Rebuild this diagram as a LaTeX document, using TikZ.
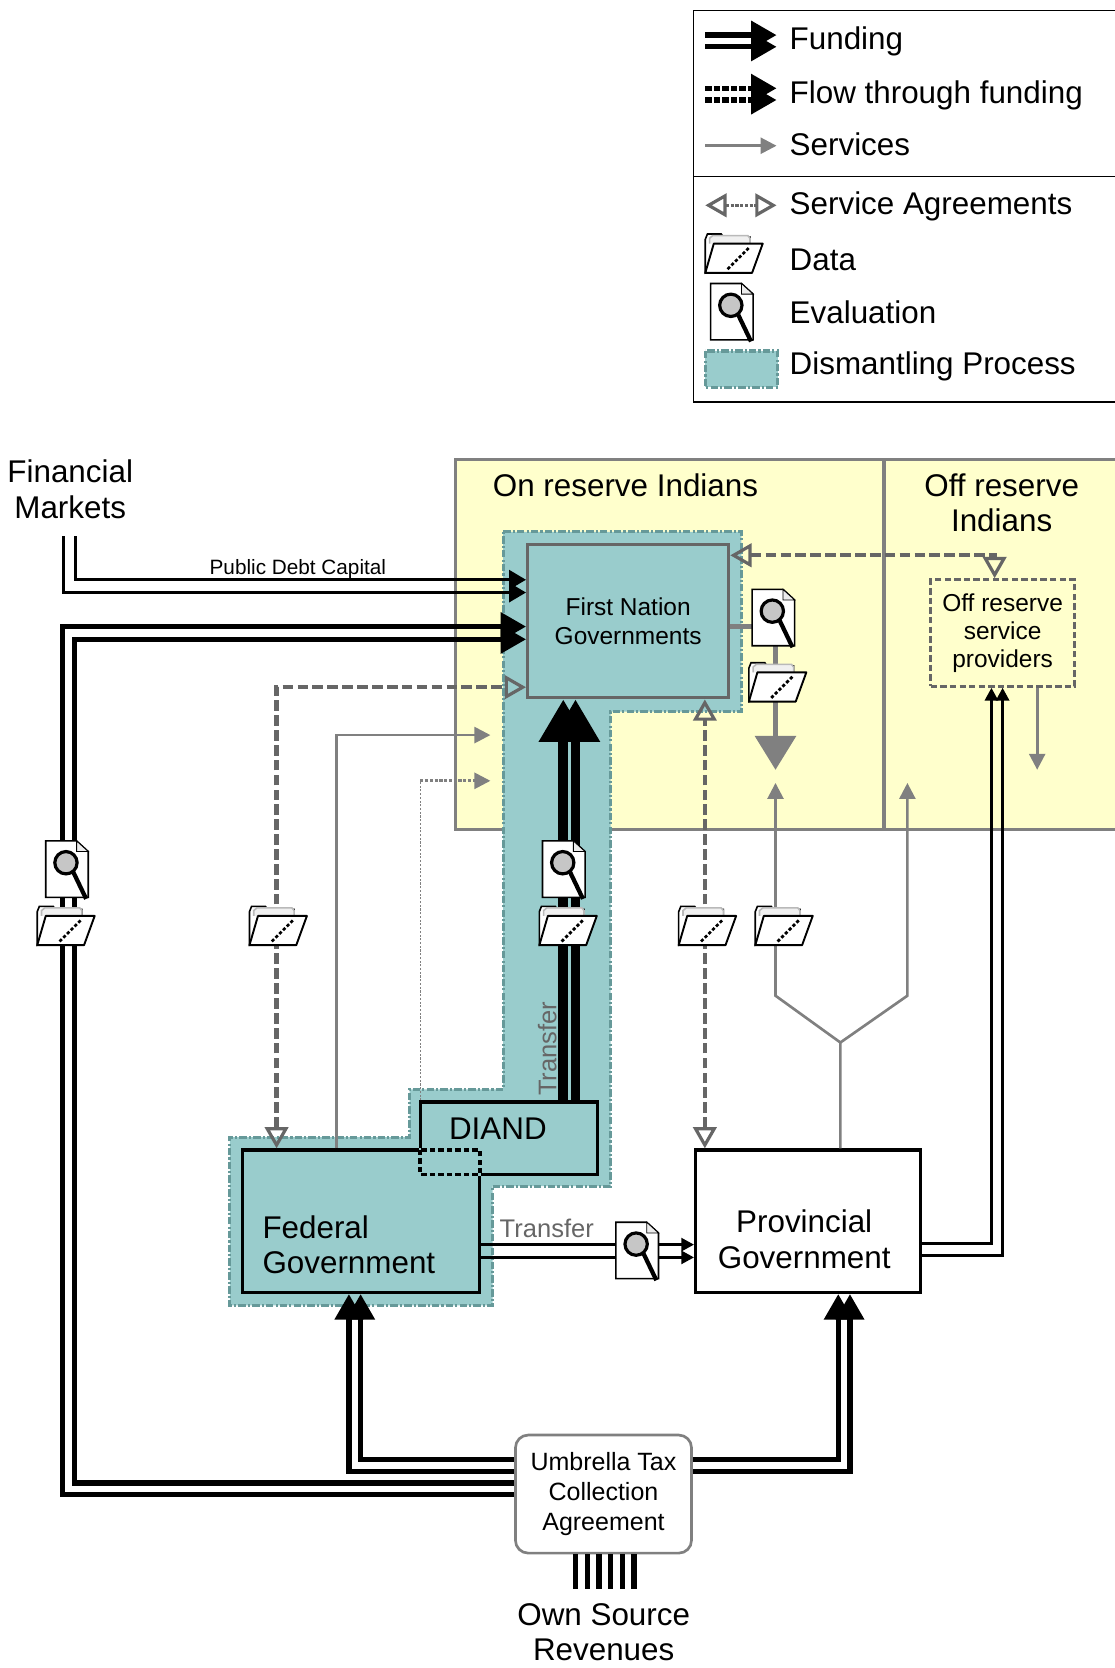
\documentclass[tikz,border=0pt]{standalone}
\usepackage{fontspec}
\setmainfont{Liberation Sans}
\usetikzlibrary{arrows.meta}
\definecolor{dismfill}{RGB}{153,204,204}
\definecolor{dismline}{RGB}{102,153,153}
\definecolor{resfill}{RGB}{255,255,204}
\definecolor{agreegray}{RGB}{102,102,102}
\definecolor{svcgray}{RGB}{128,128,128}

\tikzset{every picture/.style={line width=0.75pt}}
\tikzset{
  bigtxt/.style={font=\fontsize{29.5}{33}\selectfont, inner sep=0pt},
  midtxt/.style={font=\fontsize{23}{26.5}\selectfont},
  smalltxt/.style={font=\fontsize{19.5}{22}\selectfont, inner sep=0pt},
  fund/.style={line width=5pt, -{Triangle[length=24pt,width=26pt]}},
  debt/.style={line width=3pt, -{Triangle[length=16pt,width=18pt]}},
  thinfund/.style={line width=3pt, -{Triangle[length=12pt,width=12pt]}},
  xfer/.style={line width=9pt, -{Triangle[length=40pt,width=44pt]}},
  agree/.style={draw=agreegray, line width=4pt, dash pattern=on 10pt off 4pt,
    {Triangle[open,length=20pt,width=22pt,line width=3pt]}-{Triangle[open,length=20pt,width=22pt,line width=3pt]}},
  svc/.style={draw=svcgray, line width=2.5pt, -{Triangle[length=15pt,width=15pt]}},
  svcbig/.style={draw=svcgray, line width=5pt, -{Triangle[length=32pt,width=38pt]}},
  dismantle/.style={fill=dismfill, draw=dismline, line width=3pt, dash pattern=on 7pt off 2pt on 2pt off 2pt},
  reserve/.style={fill=resfill, draw=svcgray, line width=3pt},
  govbox/.style={draw, line width=3pt, inner sep=0pt},
  pics/evalicon/.style={code={
    \begin{scope}[yscale=-1]
    \draw[fill=white, line width=1.5pt] (-20,-26.5) -- (9,-26.5) -- (20,-16.5) -- (20,26.5) -- (-20,26.5) -- cycle;
    \draw[fill=gray!15, line width=0.8pt] (9,-26.5) -- (9,-16.5) -- (20,-16.5) -- cycle;
    \draw[line width=4pt] (6,3) -- (18,28);
    \draw[fill=gray!45, line width=3pt] (-1,-6) circle[radius=10.5pt];
    \end{scope}
  }},
  pics/dataicon/.style={code={
    \begin{scope}[yscale=-1]
    \draw[fill=white, line width=1.5pt] (-27,18.5) -- (-27,-13) -- (-25,-18) -- (-12,-18) -- (-10,-15) -- (15,-15) -- (15,0) -- cycle;
    \draw[draw=gray!55, fill=gray!12, line width=1.5pt] (-23,-9) -- (-23,-14) -- (-20,-16.5) -- (13,-16.5) -- (15,-14) -- (15,-9);
    \draw[fill=white, line width=1.8pt, line join=round] (-27,18.5) -- (-19,-9) -- (27,-9) -- (17,18.5) -- cycle;
    \draw[line width=2.6pt, dash pattern=on 3pt off 2pt] (-6,15) -- (14,-5);
    \end{scope}
  }}
}

\begin{document}
\begin{tikzpicture}[x=1pt,y=1pt,yscale=-1,xscale=1]
\useasboundingbox (0,0) rectangle (1048,1568);

% Legend
\draw[line width=1.5pt] (652,10) rectangle (1060,378);
\draw[line width=1.5pt] (652,166) -- (1060,166);
\draw[fund] (663,33) -- (730,33);
\draw[fund] (663,44) -- (730,44);
\draw[fund, dash pattern=on 6pt off 2pt] (663,83) -- (730,83);
\draw[fund, dash pattern=on 6pt off 2pt] (663,94) -- (730,94);
\draw[svc] (663,137) -- (730,137);
\draw[agree, line width=3pt, dash pattern=on 3pt off 1.5pt] (663,193) -- (730,193);
\pic at (690,238) {dataicon};
\pic at (688,293) {evalicon};
\draw[dismantle] (663,330) rectangle (731,364);
\node[bigtxt, anchor=base west] (lgfund) at (742,47) {Funding};
\node[bigtxt, anchor=base west] (lgflow) at (742,97) {Flow through funding};
\node[bigtxt, anchor=base west] (lgsvc) at (742,146) {Services};
\node[bigtxt, anchor=base west] (lgagree) at (742,202) {Service Agreements};
\node[bigtxt, anchor=base west] (lgdata) at (742,254) {Data};
\node[bigtxt, anchor=base west] (lgeval) at (742,304) {Evaluation};
\node[bigtxt, anchor=base west] (lgdism) at (742,352.5) {Dismantling Process};

% Reserve areas
\draw[reserve] (428,432) rectangle (1060,780);
\draw[draw=svcgray, line width=3pt] (831,432) -- (831,780);
\node[bigtxt, anchor=base] (onres) at (588,467) {On reserve Indians};
\node[bigtxt, align=center, anchor=base] (offres) at (941.6,500) {Off reserve\\Indians};

% Dismantling process
\draw[dismantle] (473,500) -- (697,500) -- (697,669) -- (574,669) -- (574,1115) -- (463,1115) -- (463,1227) -- (216,1227) -- (216,1069) -- (385,1069) -- (385,1024) -- (473,1024) -- cycle;

% Boxes
\node[govbox, draw=agreegray, fill=dismfill, minimum width=189pt, minimum height=144pt, midtxt, align=center] (fng) at (590.5,584) {First Nation\\Governments};
\node[govbox, draw=agreegray, dash pattern=on 6pt off 3pt, minimum width=135pt, minimum height=100pt, midtxt, align=center] (orsp) at (942.5,595) {Off reserve\\service\\providers};
\node[govbox, fill=dismfill, minimum width=167pt, minimum height=68pt] (diand) at (478.5,1070) {};
\node[govbox, fill=dismfill, minimum width=223.4pt, minimum height=134pt] (fed) at (339.3,1148) {};
\fill[dismfill] (393.5,1079.5) rectangle (452.5,1105.5);
\draw[line width=3.5pt, dash pattern=on 5pt off 3pt] (395,1081) rectangle (451,1104);
\node[govbox, fill=white, minimum width=211pt, minimum height=134pt] (prov) at (759.5,1148) {};
\node[govbox, draw=svcgray, line width=2.5pt, rounded corners=12pt, fill=white, minimum width=165.5pt, minimum height=111pt, align=center, font=\fontsize{23.5}{28}\selectfont] (utca) at (567.3,1404.5) {Umbrella Tax\\Collection\\Agreement};

% Text
\node[bigtxt, align=center, anchor=base] (fm) at (66,487) {Financial\\Markets};
\node[smalltxt, anchor=base] (pdc) at (280,540.5) {Public Debt Capital};
\node[bigtxt, anchor=base] (diandtxt) at (468,1071.5) {DIAND};
\node[bigtxt, align=left, anchor=base west] (fedtxt) at (246.4,1196.8) {Federal\\Government};
\node[bigtxt, align=center, anchor=base] (provtxt) at (756,1192) {Provincial\\Government};
\node[bigtxt, align=center, anchor=base] (osr) at (567.5,1561) {Own Source\\Revenues};
\node[font=\fontsize{24}{28}\selectfont, inner sep=0pt, text=agreegray, anchor=base] (xfertxt) at (514,1163) {Transfer};
\node[font=\fontsize{24}{28}\selectfont, inner sep=0pt, text=agreegray, anchor=base, rotate=90] (xfertxtb) at (523,986) {Transfer};

% Free ends
\coordinate (fmL) at (60,504);
\coordinate (fmR) at (71,504);
\coordinate (osrtop) at (567,1494);
\coordinate (svcA) at (461,691);
\coordinate (dotbend) at (395,734);
\coordinate (svcB) at (461,734);
\coordinate (fnsvc) at (729,723.7);
\coordinate (fork) at (790,980);
\coordinate (svcC) at (729,736);
\coordinate (svcD) at (853,736);
\coordinate (svcE) at (975,723.6);

% Funding
\draw[debt] (fmL) |- (fng.west |- 0,557);
\draw[debt] (fmR) |- (fng.west |- 0,545);
\draw[fund] (utca.west |- 0,1405) -| (59,589) -- (fng.west |- 0,589);
\draw[fund] (utca.west |- 0,1394) -| (70,601) -- (fng.west |- 0,601);
\draw[fund] (utca.west |- 0,1383) -| (fed.south -| 328,0);
\draw[fund] (utca.west |- 0,1372) -| (fed.south -| 339,0);
\draw[fund] (utca.east |- 0,1383) -| (prov.south -| 799,0);
\draw[fund] (utca.east |- 0,1372) -| (prov.south -| 788,0);
\draw[xfer] (diand.north -| 529.5,0) -- (fng.south -| 529.5,0);
\draw[xfer] (diand.north -| 541,0) -- (fng.south -| 541,0);
\draw[thinfund] (fed.east |- 0,1170) -- (prov.west |- 0,1170);
\draw[thinfund] (fed.east |- 0,1182) -- (prov.west |- 0,1182);
\draw[thinfund] (prov.east |- 0,1169) -| (orsp.south -| 932,0);
\draw[thinfund] (prov.east |- 0,1180) -| (orsp.south -| 942.5,0);
\draw[line width=5pt] (utca.south -| 541,0) -- (osrtop -| 541,0) (utca.south -| 552,0) -- (osrtop -| 552,0)
  (utca.south -| 563,0) -- (osrtop -| 563,0) (utca.south -| 574,0) -- (osrtop -| 574,0)
  (utca.south -| 585,0) -- (osrtop -| 585,0) (utca.south -| 596,0) -- (osrtop -| 596,0);

% Service agreements
\draw[agree] (fng.east |- 0,522) -| (orsp.north -| 935,0);
\draw[agree] (fed.north -| 260,0) |- (fng.west |- 0,646);
\draw[agree] (prov.north -| 662.6,0) -- (fng.south -| 662.6,0);

% Services
\draw[svc] (fed.north -| 316.5,0) |- (svcA);
\draw[draw=svcgray, line width=0.8pt, dash pattern=on 2pt off 1.5pt] (diand.north -| dotbend) -- (dotbend);
\draw[svc, dash pattern=on 3pt off 1.5pt] (dotbend) -- (svcB);
\draw[svcbig] (fng.east |- 0,589) -| (fnsvc);
\draw[svc] (prov.north -| fork) -- (fork) -- (729,936) -- (svcC);
\draw[svc] (fork) -- (853,936) -- (svcD);
\draw[svc] (orsp.south -| svcE) -- (svcE);

% Data and evaluation
\pic at (63,817) {evalicon};
\pic at (62,870) {dataicon};
\pic at (261.5,870) {dataicon};
\pic at (530,817) {evalicon};
\pic at (534,870) {dataicon};
\pic at (665,870) {dataicon};
\pic at (737,870) {dataicon};
\pic at (727,580.5) {evalicon};
\pic at (731,641) {dataicon};
\pic at (599,1175.5) {evalicon};

\end{tikzpicture}
\end{document}
